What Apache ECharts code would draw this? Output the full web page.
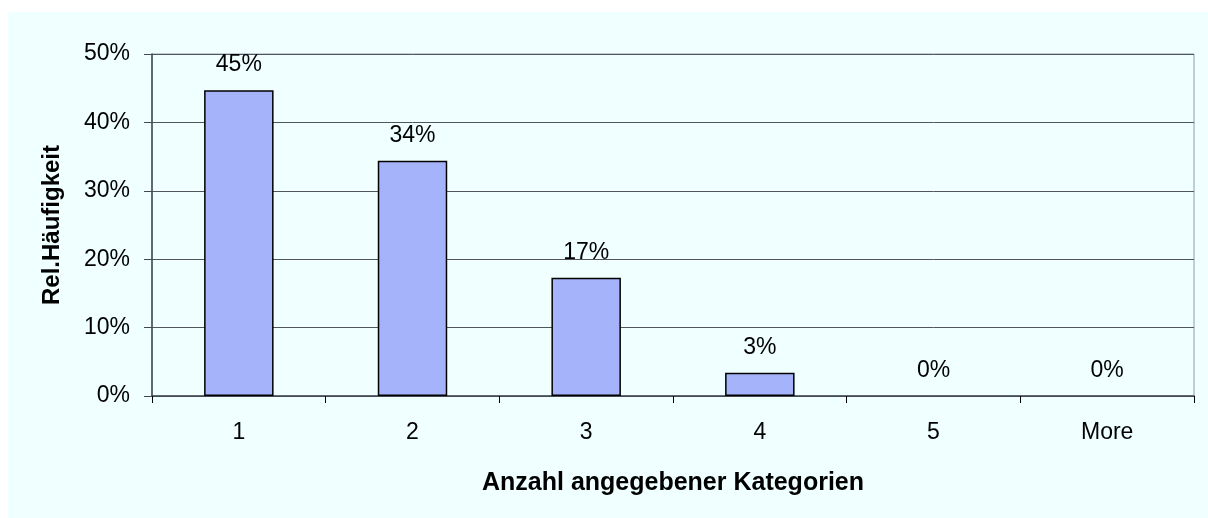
<!DOCTYPE html>
<html>
<head>
<meta charset="utf-8">
<script src="https://cdn.jsdelivr.net/npm/echarts@6/dist/echarts.min.js"></script>
<style>
  html, body { margin: 0; padding: 0; background: #ffffff; }
  .frame { position: absolute; left: 8px; top: 12px; width: 1200px; height: 506px; background: #f0ffff; }
  #chart { position: absolute; left: 0; top: 0; width: 1208px; height: 518px; }
</style>
</head>
<body>
<div class="frame"></div>
<div id="chart"></div>
<script>
// Anzahl angegebener Kategorien -> relative Häufigkeit (%)
const categories = ['1', '2', '3', '4', '5', 'More']
const relFreq = [44.7, 34.4, 17.3, 3.4, 0, 0]
const yTicks = { min: 0, max: 50, interval: 10 }

const font = 'Liberation Sans, Arial, sans-serif'
const chart = echarts.init(document.getElementById('chart'))
chart.setOption({
  backgroundColor: 'transparent',
  animation: false,
  grid: {
    left: 152, right: 14, top: 54, bottom: 122,
    show: true, borderColor: '#8e9cb2', borderWidth: 1, backgroundColor: 'transparent',
  },
  xAxis: {
    type: 'category', data: categories,
    name: 'Anzahl angegebener Kategorien', nameLocation: 'middle', nameGap: 75,
    nameTextStyle: { fontFamily: font, fontWeight: 'bold', fontSize: 25, color: '#000' },
    axisLine: { lineStyle: { color: '#404850', width: 1.5 } },
    axisTick: { show: true, length: 7, lineStyle: { color: '#000' } },
    axisLabel: { fontFamily: font, fontSize: 23, color: '#000', margin: 25 },
  },
  yAxis: {
    type: 'value', min: yTicks.min, max: yTicks.max, interval: yTicks.interval,
    name: 'Rel.Häufigkeit', nameLocation: 'middle', nameGap: 88, nameRotate: 90,
    nameTextStyle: { fontFamily: font, fontWeight: 'bold', fontSize: 24, color: '#000' },
    axisLine: { show: true, lineStyle: { color: '#404850', width: 1.5 } },
    axisTick: { show: true, length: 8, lineStyle: { color: '#404850' } },
    axisLabel: { fontFamily: font, fontSize: 23, color: '#000', margin: 22, formatter: '{value}%' },
    splitLine: { lineStyle: { color: '#50565c', width: 1 } },
  },
  series: [{
    type: 'bar', barWidth: '40%',
    data: relFreq.map(v => ({ value: v, itemStyle: v === 0 ? { borderWidth: 0 } : undefined })),
    itemStyle: { color: '#a5b4fa', borderColor: '#000', borderWidth: 1.5 },
    label: {
      show: true, position: 'top', distance: 14,
      fontFamily: font, fontSize: 23, color: '#000',
      formatter: p => Math.round(p.value) + '%',
    },
  }],
})
</script>
</body>
</html>
